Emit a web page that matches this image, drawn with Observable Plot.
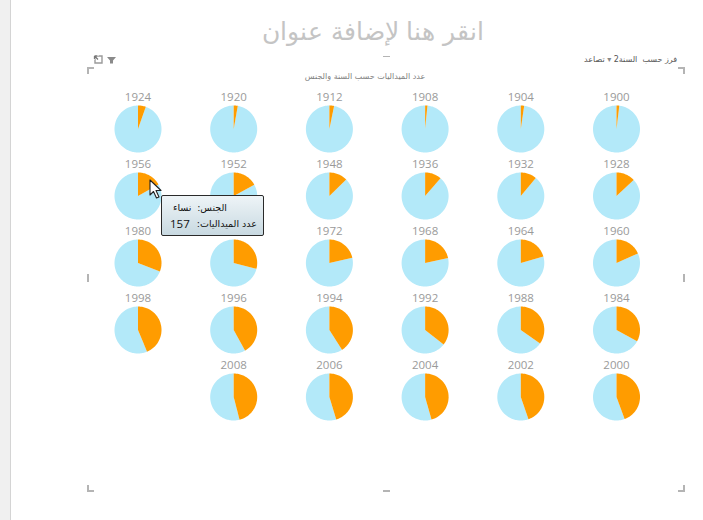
<!DOCTYPE html>
<html><head><meta charset="utf-8">
<script src="https://cdn.jsdelivr.net/npm/d3@7"></script>
<script src="https://cdn.jsdelivr.net/npm/@observablehq/plot@0.6"></script>
<style>
html,body{margin:0;padding:0;background:#fff;}
#wrap{position:relative;width:703px;height:520px;overflow:hidden;font-family:"Open Sans","DejaVu Sans",sans-serif;}
#chart{position:absolute;left:0;top:0;}
#strip{position:absolute;left:0;top:0;width:10px;height:520px;background:#f0f0f0;border-right:1px solid #d4d4d4;}
#title{position:absolute;left:173px;top:17px;width:400px;text-align:center;direction:rtl;font-family:"DejaVu Sans",sans-serif;font-size:25px;color:#c4c4c4;font-weight:300;}
#subtitle{position:absolute;left:265px;top:72px;width:200px;text-align:center;direction:rtl;font-family:"DejaVu Sans",sans-serif;font-size:8px;color:#808080;}
#sort{position:absolute;right:26px;top:55px;direction:rtl;font-family:"DejaVu Sans",sans-serif;font-size:8px;color:#555;white-space:nowrap;}
.c{position:absolute;box-sizing:border-box;border-color:#b4b4b4;border-style:solid;border-width:0;}
#tip{position:absolute;left:161px;top:195px;width:103px;height:41px;box-sizing:border-box;border:1px solid #2a2a2a;border-radius:2px;background:linear-gradient(#eef4f7,#c8d9e1);font-family:"DejaVu Sans",sans-serif;color:#111;}
.t{position:absolute;white-space:nowrap;font-size:9.5px;direction:rtl;}
</style></head>
<body><div id="wrap">
<div id="chart"></div>
<div id="strip"></div>
<div id="title">انقر هنا لإضافة عنوان</div>
<div id="subtitle">عدد الميداليات حسب السنة والجنس</div>
<div id="sort">فرز حسب&nbsp; السنة2 <span style="color:#888">▾</span> تصاعد</div>
<div class="c" style="left:87px;top:67px;width:7px;height:7px;border-left-width:2px;border-top-width:2px;"></div>
<div class="c" style="left:678px;top:67px;width:7px;height:7px;border-right-width:2px;border-top-width:2px;"></div>
<div class="c" style="left:87px;top:485px;width:7px;height:7px;border-left-width:2px;border-bottom-width:2px;"></div>
<div class="c" style="left:678px;top:485px;width:7px;height:7px;border-right-width:2px;border-bottom-width:2px;"></div>
<div class="c" style="left:383px;top:56px;width:7px;height:2px;border-top-width:1px;"></div>
<div class="c" style="left:383px;top:490px;width:7px;height:2px;border-bottom-width:2px;"></div>
<div class="c" style="left:87px;top:274px;width:2px;height:8px;border-left-width:2px;"></div>
<div class="c" style="left:683px;top:274px;width:2px;height:8px;border-left-width:2px;"></div>
<svg style="position:absolute;left:92px;top:55px" width="28" height="10" viewBox="0 0 28 10">
  <path d="M3 1 H10 V8 H3 Z" fill="none" stroke="#9a9a9a" stroke-width="1.4"/>
  <path d="M2 0 L7 0 L2 5 Z" fill="#fff"/>
  <path d="M2.5 1 L6 4.5 M2.5 1 L2.5 4 M2.5 1 L5.5 1" stroke="#777" stroke-width="1.3" fill="none"/>
  <path d="M15 2 L24 2 L21 5.5 L21 8.5 L18 8.5 L18 5.5 Z" fill="#8a8a8a"/>
</svg>
<div id="tip">
  <div class="t" style="right:36px;top:6px;">الجنس:</div>
  <div class="t" style="left:11px;top:6px;">نساء</div>
  <div class="t" style="right:6px;top:22px;">عدد الميداليات:</div>
  <div class="t" style="left:8px;top:20px;font-size:11.5px;font-family:'Open Sans',sans-serif;direction:ltr;">157</div>
</div>
<svg style="position:absolute;left:149px;top:179px" width="16" height="22" viewBox="0 0 16 22">
  <path d="M1 1 L1 16 L4.5 12.5 L7.5 19 L10 18 L7 11.5 L12 11.5 Z" fill="#fff" stroke="#222" stroke-width="1.1" stroke-linejoin="round"/>
</svg>
</div>
<script>
// Olympic medals by year and gender (share of medals, %)
const years    = [1900,1904,1908,1912,1920,1924,1928,1932,1936,1948,1952,1956,1960,1964,1968,1972,1976,1980,1984,1988,1992,1994,1996,1998,2000,2002,2004,2006,2008];
const womenPct = [1.9, 2.3, 1.6, 3.2, 2.8, 5.4, 13.0, 11.0, 11.4, 12.7, 17.0, 16.8, 18.3, 20.5, 21.6, 21.5, 29.0, 30.8, 33.0, 34.7, 35.5, 41.0, 42.0, 43.7, 44.4, 44.7, 45.6, 45.3, 46.0];
const menPct   = [98.1, 97.7, 98.4, 96.8, 97.2, 94.6, 87.0, 89.0, 88.6, 87.3, 83.0, 83.2, 81.7, 79.5, 78.4, 78.5, 71.0, 69.2, 67.0, 65.3, 64.5, 59.0, 58.0, 56.3, 55.6, 55.3, 54.4, 54.7, 54.0];
const seriesNames = ["نساء", "رجال"];
const colors = ["#ff9c00", "#b3e9f9"];

const perRow = 6;
const cells = years.map((year, i) => ({
  year, col: perRow - 1 - (i % perRow), row: Math.floor(i / perRow),
  women: womenPct[i], men: menPct[i]
}));

// layout geometry (pixels)
const W = 703, H = 520;
const colStep = 95.7, rowStep = 67, R = 23.5;
const firstCx = 137.5, firstCy = 128.5;
const DX = colStep / 2 / R, DY = rowStep / 2 / R;

function arc(cell, a0, a1, center) {
  const n = Math.max(2, Math.ceil((a1 - a0) / (Math.PI / 90)));
  const pts = [];
  if (center) pts.push({...cell, x: 0, y: 0});
  for (let k = 0; k <= n; k++) {
    const a = a0 + (a1 - a0) * k / n;
    pts.push({...cell, x: Math.sin(a), y: Math.cos(a)});
  }
  if (center) pts.push({...cell, x: 0, y: 0});
  return pts;
}
const menPts = cells.flatMap(c => arc(c, 2 * Math.PI * c.women / (c.women + c.men), 2 * Math.PI, true));
const womenPts = cells.flatMap(c => arc(c, 0, 2 * Math.PI * c.women / (c.women + c.men), true));

const ml = firstCx - colStep / 2;
const mt = firstCy - rowStep / 2;
const chart = Plot.plot({
  width: W, height: H,
  marginLeft: ml, marginRight: W - ml - colStep * perRow,
  marginTop: mt, marginBottom: H - mt - rowStep * 5,
  style: {background: "transparent", overflow: "visible"},
  fx: {domain: d3.range(perRow), axis: null, padding: 0, round: false},
  fy: {domain: d3.range(5), axis: null, padding: 0, round: false},
  x: {domain: [-DX, DX], axis: null},
  y: {domain: [-DY, DY], axis: null},
  marks: [
    Plot.line(menPts, {fx: "col", fy: "row", x: "x", y: "y", z: "year", fill: colors[1], stroke: "none"}),
    Plot.line(womenPts, {fx: "col", fy: "row", x: "x", y: "y", z: "year", fill: colors[0], stroke: "none"}),
    Plot.text(cells, {fx: "col", fy: "row", x: () => 0, y: () => 1.34, text: d => String(d.year),
      fill: "#9a9a9a", fontSize: 11.5, fontFamily: "Open Sans, sans-serif"})
  ]
});
document.getElementById("chart").appendChild(chart);
</script>
</body></html>
